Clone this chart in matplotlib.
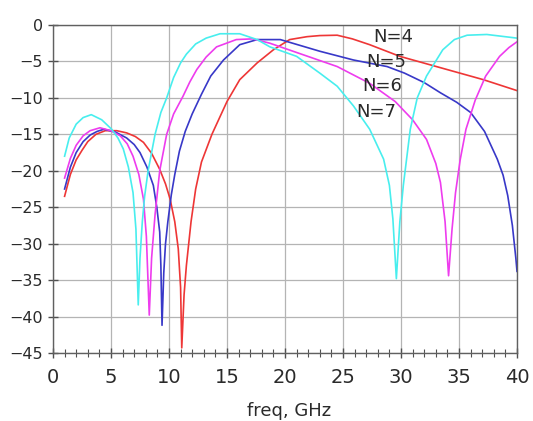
import matplotlib
matplotlib.use('Agg')
import matplotlib.pyplot as plt
from matplotlib.ticker import MultipleLocator

# values (freq in GHz, response in dB)
freq_n4 = [1.0, 1.5, 2.0, 2.5, 3.0, 3.7, 4.5, 5.5, 6.35, 7.1, 7.8, 8.5, 9.2, 9.7, 10.1, 10.5,
           10.8, 11.0, 11.1, 11.3, 11.5, 11.9, 12.3, 12.8, 13.7, 15.0, 16.1, 17.6, 19.0, 20.4,
           21.9, 23.0, 24.5, 25.8, 27.3, 29.9, 33.5, 37.1, 40.0]
db_n4 = [-23.5, -20.5, -18.5, -17.2, -16.0, -15.0, -14.5, -14.5, -14.8, -15.3, -16.1, -17.6, -19.8, -21.8, -23.9, -27.0,
         -30.7, -36.0, -44.3, -37.0, -33.0, -27.0, -22.5, -18.8, -15.0, -10.5, -7.5, -5.2, -3.4, -2.0,
         -1.6, -1.45, -1.4, -1.9, -2.7, -4.3, -5.9, -7.5, -9.0]

freq_n5 = [1.0, 1.5, 2.0, 2.6, 3.2, 3.8, 4.4, 5.4, 6.35, 7.0, 7.5, 8.1, 8.65, 8.95, 9.2, 9.3,
           9.4, 9.55, 9.7, 9.9, 10.2, 10.5, 10.9, 11.4, 12.0, 12.8, 13.6, 14.7, 16.1, 17.6,
           19.6, 21.3, 23.0, 25.9, 28.8, 30.3, 32.0, 33.4, 34.8, 36.0, 37.2, 38.3, 38.8, 39.2,
           39.6, 39.9, 40.0]
db_n5 = [-22.5, -19.5, -17.5, -16.0, -15.1, -14.6, -14.3, -14.7, -15.5, -16.4, -17.5, -19.5, -22.0, -25.0, -28.4, -33.0,
         -41.2, -34.0, -30.0, -27.0, -23.3, -20.5, -17.3, -14.6, -12.2, -9.5, -7.0, -4.8, -2.7, -2.0,
         -2.0, -2.8, -3.6, -4.8, -5.7, -6.6, -7.9, -9.3, -10.6, -12.0, -14.6, -18.4, -20.6, -23.4,
         -27.5, -32.0, -33.8]

freq_n6 = [1.0, 1.5, 2.0, 2.6, 3.2, 4.05, 5.0, 5.8, 6.4, 6.9, 7.4, 7.8, 8.05, 8.3, 8.5, 8.8,
           9.2, 9.8, 10.4, 11.2, 11.8, 12.4, 13.2, 14.1, 15.8, 17.2, 18.7, 21.6, 24.5, 27.3,
           29.5, 31.0, 32.2, 33.0, 33.4, 33.8, 34.1, 34.4, 34.7, 35.1, 35.6, 36.4, 37.3, 38.5,
           39.3, 40.0]
db_n6 = [-21.0, -18.3, -16.5, -15.2, -14.5, -14.1, -14.5, -15.2, -16.3, -18.0, -20.5, -23.9, -29.0, -39.8, -32.0, -26.0,
         -20.0, -15.0, -12.2, -9.8, -7.8, -6.1, -4.4, -3.0, -2.0, -1.9, -2.5, -4.1, -5.7, -8.0,
         -10.5, -13.0, -15.7, -19.0, -21.6, -27.0, -34.4, -28.0, -23.0, -18.5, -14.3, -10.3, -7.0, -4.3,
         -3.1, -2.3]

freq_n7 = [1.0, 1.4, 2.0, 2.6, 3.3, 4.2, 5.06, 5.6, 6.06, 6.5, 6.9, 7.15, 7.35, 7.5, 7.7, 7.9,
           8.2, 8.8, 9.3, 9.8, 10.4, 11.0, 11.5, 12.3, 13.2, 14.4, 16.1, 17.6, 18.7, 21.0,
           23.0, 24.5, 25.9, 27.3, 28.5, 29.0, 29.3, 29.6, 29.9, 30.2, 30.8, 31.4, 32.2, 33.6,
           34.6, 35.7, 37.4, 40.0]
db_n7 = [-18.0, -15.5, -13.6, -12.7, -12.3, -13.0, -14.3, -15.5, -17.0, -19.5, -23.0, -28.0, -38.4, -32.0, -27.0, -23.5,
         -20.0, -15.0, -12.0, -10.0, -7.2, -5.2, -4.0, -2.6, -1.8, -1.2, -1.2, -2.0, -3.0, -4.3,
         -6.6, -8.4, -11.1, -14.3, -18.4, -22.0, -26.6, -34.8, -27.0, -22.0, -14.3, -10.0, -7.0, -3.4,
         -2.0, -1.4, -1.3, -1.8]

labels = ['N=4', 'N=5', 'N=6', 'N=7']
label_x = [29.3, 28.7, 28.4, 27.9]
label_y = [-1.6, -5.05, -8.3, -11.9]

xticks = [0, 5, 10, 15, 20, 25, 30, 35, 40]
yticks = [0, -5, -10, -15, -20, -25, -30, -35, -40, -45]

plt.rcParams['font.family'] = ['DejaVu Sans']

fig = plt.figure(figsize=(5.33, 4.21), dpi=100)
ax = fig.add_axes([0.0994, 0.1615, 0.8706, 0.7791])

ax.plot(freq_n4, db_n4, color='#ee3636', lw=1.2)
ax.plot(freq_n5, db_n5, color='#3838c8', lw=1.2)
ax.plot(freq_n6, db_n6, color='#ee3cee', lw=1.2)
ax.plot(freq_n7, db_n7, color='#48eeee', lw=1.2)

for t, lx, ly in zip(labels, label_x, label_y):
    ax.text(lx, ly, t, fontsize=13, color='#2a2a2a', ha='center', va='center')

ax.set_xlim(0, 40)
ax.set_ylim(-45, 0)
ax.set_xticks(xticks)
ax.set_yticks(yticks)
ax.xaxis.set_minor_locator(MultipleLocator(1))
ax.grid(True, which='major', color='#b4b4b4', lw=0.9)
ax.tick_params(which='major', direction='inout', length=7, width=1, color='#505050',
               labelcolor='#2a2a2a')
ax.tick_params(which='minor', direction='inout', length=5.5, width=0.8, color='#505050')
ax.tick_params(axis='x', which='major', labelsize=14, pad=7)
ax.tick_params(axis='y', which='major', labelsize=11.5, pad=3.5)
ax.tick_params(axis='y', which='minor', left=False)
for s in ax.spines.values():
    s.set_color('#606060')
    s.set_linewidth(1.0)

ax.set_xlabel('freq, GHz', fontsize=13, color='#2a2a2a', va='center')
ax.xaxis.set_label_coords(0.509, -0.177)

fig.savefig('out.png', dpi=100)
